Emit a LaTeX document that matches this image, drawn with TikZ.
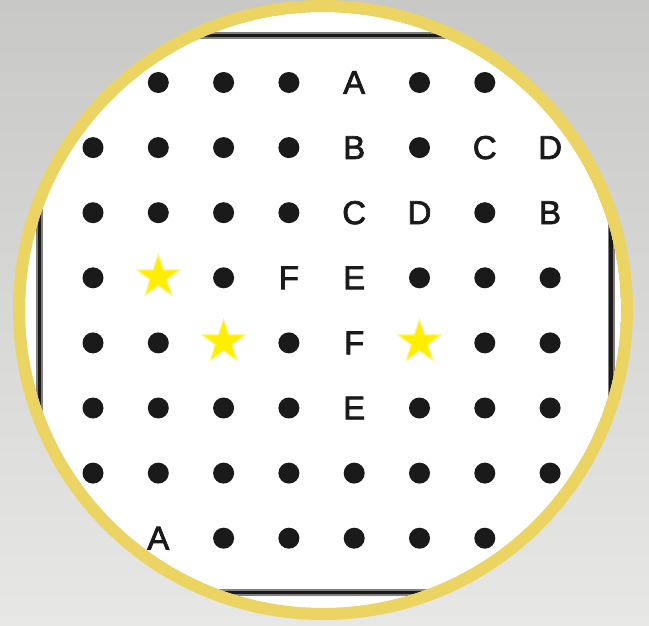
\documentclass[tikz,border=0pt]{standalone}
\usepackage{fontspec}
\setmainfont{Liberation Sans}
\newfontfamily\letfont[FakeBold=2.2]{Liberation Sans}
\usetikzlibrary{shapes.geometric}
\definecolor{ring}{RGB}{236,212,98}
\definecolor{bgtop}{RGB}{200,200,199}
\definecolor{bgbot}{RGB}{231,231,229}
\definecolor{dotc}{RGB}{26,26,26}
\definecolor{staryel}{RGB}{255,238,0}
\definecolor{frameshadow}{RGB}{128,128,128}
\begin{document}
\begin{tikzpicture}[x=1pt,y=-1pt,
  dotn/.style={circle,fill=dotc,inner sep=0pt,minimum size=21pt},
  letn/.style={font=\letfont\fontsize{33}{33}\selectfont,text=dotc,inner sep=0pt},
  starn/.style={star,star points=5,star point ratio=2.6,fill=staryel,draw=staryel!55,line width=1pt,inner sep=0pt,minimum size=45pt}]
\useasboundingbox (0,0) rectangle (649,625);
\shade[top color=bgtop,bottom color=bgbot] (0,0) rectangle (649,625);
\begin{scope}
  \clip (323,310) circle (298pt);
  \fill[white] (323,310) circle (298pt);
  \draw[frameshadow,line width=7pt] (39.5,35.5) rectangle (611,592.5);
  \draw[dotc,line width=3.5pt] (39.5,35.5) rectangle (611,592.5);
\end{scope}
\draw[ring,line width=12pt] (323,310) circle (304pt);
% dots
\foreach \c/\r in {1/0,2/0,3/0,5/0,6/0,
                   0/1,1/1,2/1,3/1,5/1,
                   0/2,1/2,2/2,3/2,6/2,
                   0/3,2/3,5/3,6/3,7/3,
                   0/4,1/4,3/4,6/4,7/4,
                   0/5,1/5,2/5,3/5,5/5,6/5,7/5,
                   0/6,1/6,2/6,3/6,4/6,5/6,6/6,7/6,
                   2/7,3/7,4/7,5/7,6/7}
  \node[dotn] (d\c\r) at ({93+65.3*\c},{82.5+65.1*\r}) {};
% letters
\foreach \c/\r/\t in {4/0/A,4/1/B,6/1/C,7/1/D,4/2/C,5/2/D,7/2/B,3/3/F,4/3/E,4/4/F,4/5/E,1/7/A}
  \node[letn] (l\c\r) at ({93+65.3*\c},{82.5+65.1*\r}) {\t};
% stars
\foreach \c/\r in {1/3,2/4,5/4}
  \node[starn] (s\c\r) at ({93+65.3*\c},{82.5+65.1*\r-1}) {};
\end{tikzpicture}
\end{document}
